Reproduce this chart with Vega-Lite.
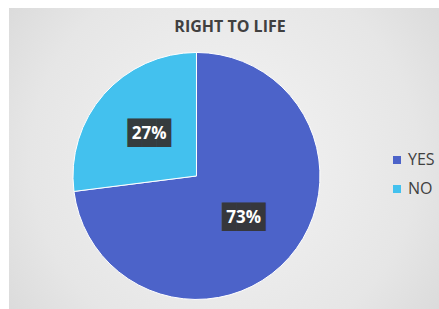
{
  "$schema": "https://vega.github.io/schema/vega-lite/v6.json",
  "autosize": "none",
  "width": 430,
  "height": 301,
  "padding": {"left": 9, "top": 8, "right": 0, "bottom": 0},
  "background": "#ffffff",
  "config": {
    "view": {
      "stroke": null,
      "fill": {
        "gradient": "radial",
        "x1": 0.5, "y1": 0.5, "r1": 0,
        "x2": 0.5, "y2": 0.5, "r2": 0.75,
        "stops": [
          {"offset": 0, "color": "#f4f4f4"},
          {"offset": 0.6, "color": "#e6e6e6"},
          {"offset": 1, "color": "#d2d2d2"}
        ]
      }
    }
  },
  "title": {
    "text": "RIGHT TO LIFE",
    "orient": "top",
    "anchor": "middle",
    "offset": -40,
    "baseline": "alphabetic",
    "dx": 6,
    "font": "Open Sans",
    "fontSize": 16,
    "fontWeight": "bold",
    "color": "#404040"
  },
  "data": {
    "values": [
      {"answer": "YES", "pct": 73, "label": "73%", "ord": 1, "box": "███"},
      {"answer": "NO", "pct": 27, "label": "27%", "ord": 2, "box": "███"}
    ]
  },
  "encoding": {
    "theta": {"field": "pct", "type": "quantitative", "stack": true},
    "order": {"field": "ord", "type": "quantitative"},
    "x": {"datum": 0.436, "type": "quantitative", "scale": {"domain": [0, 1], "zero": false, "nice": false}, "axis": null},
    "y": {"datum": 0.442, "type": "quantitative", "scale": {"domain": [0, 1], "zero": false, "nice": false}, "axis": null}
  },
  "layer": [
    {
      "mark": {"type": "arc", "outerRadius": 123.5, "stroke": "#ffffff", "strokeWidth": 1},
      "encoding": {
        "color": {
          "field": "answer",
          "type": "nominal",
          "sort": ["YES", "NO"],
          "scale": {"domain": ["YES", "NO"], "range": ["#4c63c9", "#43c1ee"]},
          "legend": {
            "title": null,
            "orient": "none",
            "legendX": 380,
            "legendY": 144,
            "symbolType": "square",
            "symbolSize": 64,
            "symbolStrokeWidth": 0,
            "labelFont": "Open Sans",
            "labelFontSize": 16,
            "labelColor": "#404040",
            "labelOffset": 3,
            "rowPadding": 13
          }
        }
      }
    },
    {
      "mark": {"type": "text", "radius": 63, "font": "DejaVu Sans Mono", "fontSize": 24, "color": "#353535", "baseline": "middle", "dy": 0, "opacity": 0.95},
      "encoding": {"text": {"field": "box"}}
    },
    {
      "mark": {"type": "text", "radius": 63, "font": "Open Sans", "fontSize": 17, "fontWeight": "bold", "color": "#ffffff", "baseline": "middle"},
      "encoding": {"text": {"field": "label"}}
    }
  ]
}
